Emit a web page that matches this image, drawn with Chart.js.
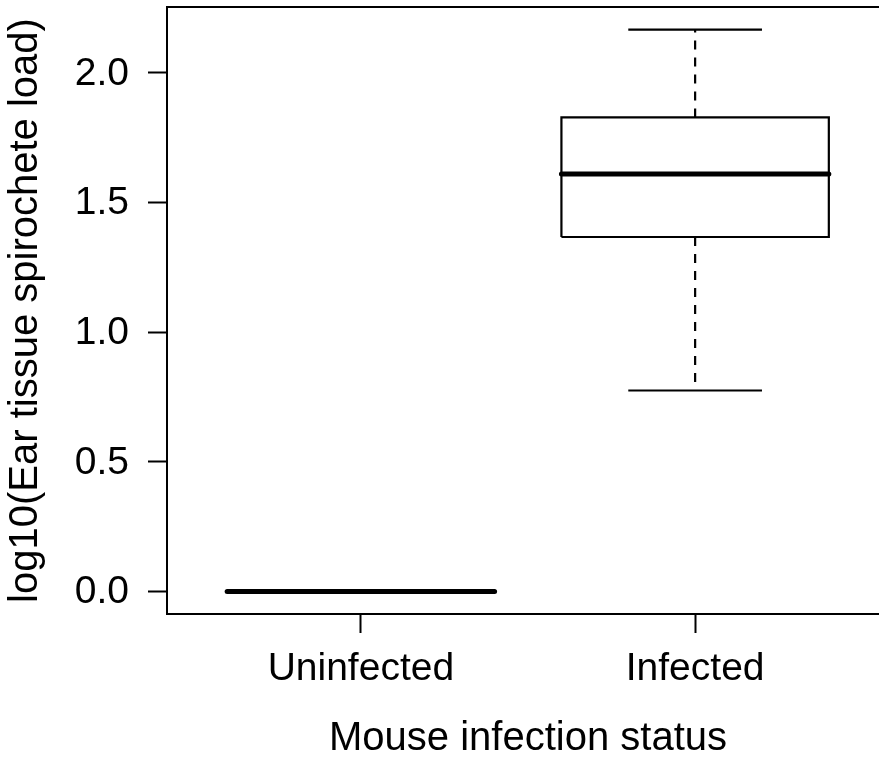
<!DOCTYPE html>
<html>
<head>
<meta charset="utf-8">
<script src="https://cdn.jsdelivr.net/npm/chart.js@4.4.1/dist/chart.umd.min.js"></script>
<style>
  html, body { margin: 0; padding: 0; background: #fff; overflow: hidden; }
  #wrap { width: 889px; height: 764px; }
</style>
</head>
<body>
<div id="wrap"><canvas id="boxChart" width="889" height="764"></canvas></div>
<script>
// values
const groups = ['Uninfected', 'Infected'];
const whiskerLow = [0, 0.775];
const lowerQuartile = [0, 1.367];
const medians = [0, 1.61];
const upperQuartile = [0, 1.828];
const whiskerHigh = [0, 2.167];
const yTicks = [0, 0.5, 1, 1.5, 2];

const boxHalf = 0.4;   // R boxwex 0.8
const capHalf = 0.2;   // staple half width

const tickFont = { family: "'Liberation Sans', Arial, sans-serif", size: 39, lineHeight: 1.2 };
const titleFont = { family: "'Liberation Sans', Arial, sans-serif", size: 40, lineHeight: 1.2 };

function seg(points, width, dash) {
    return {
        data: points,
        showLine: true,
        borderColor: '#000',
        borderWidth: width,
        borderDash: dash || [],
        borderCapStyle: 'butt',
        pointRadius: 0,
        fill: false
    };
}

let datasets = [];
groups.forEach(function(g, i) {
    const x = i + 1;
    // median drawn on top
    let med = seg([{x: x - boxHalf, y: medians[i]}, {x: x + boxHalf, y: medians[i]}], 5);
    med.borderCapStyle = 'round';
    datasets.push(med);
    datasets.push(seg([
        {x: x - boxHalf, y: lowerQuartile[i]}, {x: x + boxHalf, y: lowerQuartile[i]},
        {x: x + boxHalf, y: upperQuartile[i]}, {x: x - boxHalf, y: upperQuartile[i]},
        {x: x - boxHalf, y: lowerQuartile[i]}
    ], 2.2));
    datasets.push(seg([{x: x, y: upperQuartile[i]}, {x: x, y: whiskerHigh[i]}], 2.2, [9, 8]));
    datasets.push(seg([{x: x, y: lowerQuartile[i]}, {x: x, y: whiskerLow[i]}], 2.2, [9, 8]));
    datasets.push(seg([{x: x - capHalf, y: whiskerHigh[i]}, {x: x + capHalf, y: whiskerHigh[i]}], 2.2));
    datasets.push(seg([{x: x - capHalf, y: whiskerLow[i]}, {x: x + capHalf, y: whiskerLow[i]}], 2.2));
});

function noPad(scale) {
    scale.paddingTop = 0;
    scale.paddingBottom = 0;
    scale.paddingLeft = 0;
    scale.paddingRight = 0;
}

const ctx = document.getElementById('boxChart').getContext('2d');
new Chart(ctx, {
    type: 'scatter',
    data: { datasets: datasets },
    options: {
        responsive: false,
        animation: false,
        layout: { padding: { top: 7, left: 0, right: 0, bottom: 0 } },
        plugins: { legend: { display: false }, tooltip: { enabled: false } },
        scales: {
            x: {
                type: 'linear',
                position: 'bottom',
                min: 0.42,
                max: 2.58,
                afterBuildTicks: function(scale) {
                    scale.ticks = groups.map((g, i) => ({value: i + 1}));
                },
                afterFit: function(scale) { scale.height = 150; noPad(scale); },
                ticks: {
                    color: '#000',
                    font: tickFont,
                    padding: 13,
                    maxRotation: 0,
                    callback: function(v) { return groups[Math.round(v) - 1]; }
                },
                grid: { drawOnChartArea: false, tickLength: 19, tickColor: '#000', tickWidth: 2 },
                border: { display: true, color: '#000', width: 2 },
                title: {
                    display: true,
                    text: 'Mouse infection status',
                    color: '#000',
                    font: titleFont,
                    padding: { top: 0, bottom: 1 }
                }
            },
            xTop: {
                type: 'linear',
                position: 'top',
                min: 0.42,
                max: 2.58,
                afterFit: function(scale) { scale.height = 0; noPad(scale); },
                ticks: { display: false },
                grid: { display: false },
                border: { display: true, color: '#000', width: 2 }
            },
            y: {
                type: 'linear',
                position: 'left',
                min: -0.087,
                max: 2.254,
                afterBuildTicks: function(scale) {
                    scale.ticks = yTicks.map(v => ({value: v}));
                },
                afterFit: function(scale) { scale.width = 167; noPad(scale); },
                ticks: {
                    color: '#000',
                    font: tickFont,
                    padding: 19,
                    labelOffset: 1,
                    callback: function(v) { return v.toFixed(1); }
                },
                grid: { drawOnChartArea: false, tickLength: 19, tickColor: '#000', tickWidth: 2 },
                border: { display: true, color: '#000', width: 2 },
                title: {
                    display: true,
                    text: 'log10(Ear tissue spirochete load)',
                    color: '#000',
                    font: titleFont,
                    padding: { top: 2, bottom: 0 }
                }
            }
        }
    }
});
</script>
</body>
</html>
